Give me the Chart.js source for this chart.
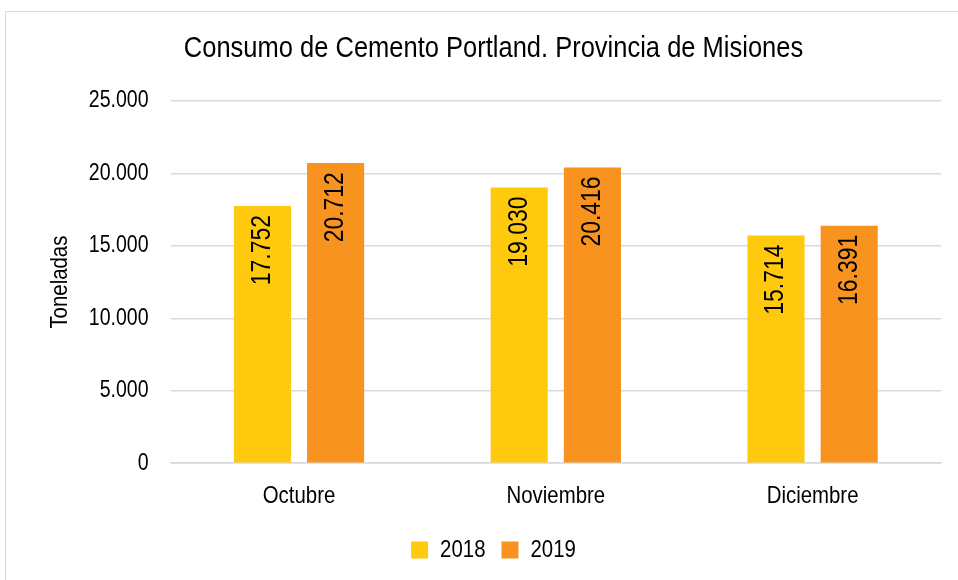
<!DOCTYPE html>
<html>
<head>
<meta charset="utf-8">
<script src="https://cdn.jsdelivr.net/npm/chart.js@4.4.1/dist/chart.umd.min.js"></script>
<style>
  html, body { margin: 0; padding: 0; background: #fff; overflow: hidden; }
  #frame { position: absolute; left: 5px; top: 11px; width: 1000px; height: 1000px; border: 1px solid #d9d9d9; }
  #wrap { position: absolute; left: 0; top: 0; width: 958px; height: 580px; }
</style>
</head>
<body>
<div id="frame"></div>
<div id="wrap"><canvas id="chart" width="958" height="580"></canvas></div>
<script>
const months = ['Octubre', 'Noviembre', 'Diciembre'];
const values2018 = [17752, 19030, 15714];
const values2019 = [20712, 20416, 16391];
const yTicks = [0, 5000, 10000, 15000, 20000, 25000];

const FONT = "'Liberation Sans', Arial, sans-serif";

// no narrow font installed: squeeze text horizontally so it looks like Arial Narrow
const SX = 0.85;
const P = CanvasRenderingContext2D.prototype;
const origFill = P.fillText, origMeasure = P.measureText;
P.fillText = function(t, x, y) {
  this.save();
  this.translate(x, y);
  this.scale(SX, 1);
  origFill.call(this, t, 0, 0);
  this.restore();
};
P.measureText = function(t) {
  const m = origMeasure.call(this, t);
  return {
    width: m.width * SX,
    actualBoundingBoxAscent: m.actualBoundingBoxAscent,
    actualBoundingBoxDescent: m.actualBoundingBoxDescent,
    actualBoundingBoxLeft: m.actualBoundingBoxLeft * SX,
    actualBoundingBoxRight: m.actualBoundingBoxRight * SX
  };
};

function fmt(v) {
  // thousands separator is a dot, as in the original
  return String(v).replace(/\B(?=(\d{3})+(?!\d))/g, '.');
}

// vertical value labels inside the top of each bar
const barLabels = {
  id: 'barLabels',
  afterDatasetsDraw(chart) {
    const ctx = chart.ctx;
    ctx.save();
    ctx.fillStyle = '#000';
    ctx.font = '27px ' + FONT;
    ctx.textAlign = 'right';
    ctx.textBaseline = 'middle';
    chart.data.datasets.forEach((ds, i) => {
      chart.getDatasetMeta(i).data.forEach((bar, j) => {
        ctx.save();
        ctx.translate(bar.x, bar.y + 9);
        ctx.rotate(-Math.PI / 2);
        ctx.fillText(fmt(ds.data[j]), 0, 0);
        ctx.restore();
      });
    });
    ctx.restore();
  }
};

new Chart(document.getElementById('chart').getContext('2d'), {
  type: 'bar',
  data: {
    labels: months,
    datasets: [
      { label: '2018', data: values2018, backgroundColor: '#FFC90E' },
      { label: '2019', data: values2019, backgroundColor: '#F7931E' }
    ]
  },
  options: {
    responsive: false,
    animation: false,
    layout: { padding: { left: 46, right: 17, top: 31, bottom: 8 } },
    datasets: { bar: { categoryPercentage: 0.57, barPercentage: 0.78 } },
    plugins: {
      title: {
        display: true,
        text: 'Consumo de Cemento Portland. Provincia de Misiones',
        color: '#000',
        font: { family: FONT, size: 30, weight: 'normal' },
        padding: { top: 0, bottom: 34 }
      },
      legend: {
        position: 'bottom',
        labels: {
          color: '#000',
          font: { family: FONT, size: 24 },
          boxWidth: 17,
          boxHeight: 17,
          padding: 16
        }
      },
      tooltip: { enabled: false }
    },
    scales: {
      x: {
        grid: { display: false },
        border: { color: '#d9d9d9', width: 1.5 },
        ticks: { color: '#000', font: { family: FONT, size: 24 }, padding: 11 }
      },
      y: {
        min: 0,
        max: 25000,
        afterBuildTicks(axis) { axis.ticks = yTicks.map(v => ({ value: v })); },
        grid: { color: '#d9d9d9', lineWidth: 1.5, drawTicks: false },
        border: { display: false },
        ticks: {
          color: '#000',
          font: { family: FONT, size: 23 },
          padding: 22,
          callback: v => fmt(v)
        },
        title: {
          display: true,
          text: 'Toneladas',
          color: '#000',
          font: { family: FONT, size: 24 },
          padding: { top: 0, bottom: -8 }
        }
      }
    }
  },
  plugins: [barLabels]
});
</script>
</body>
</html>
